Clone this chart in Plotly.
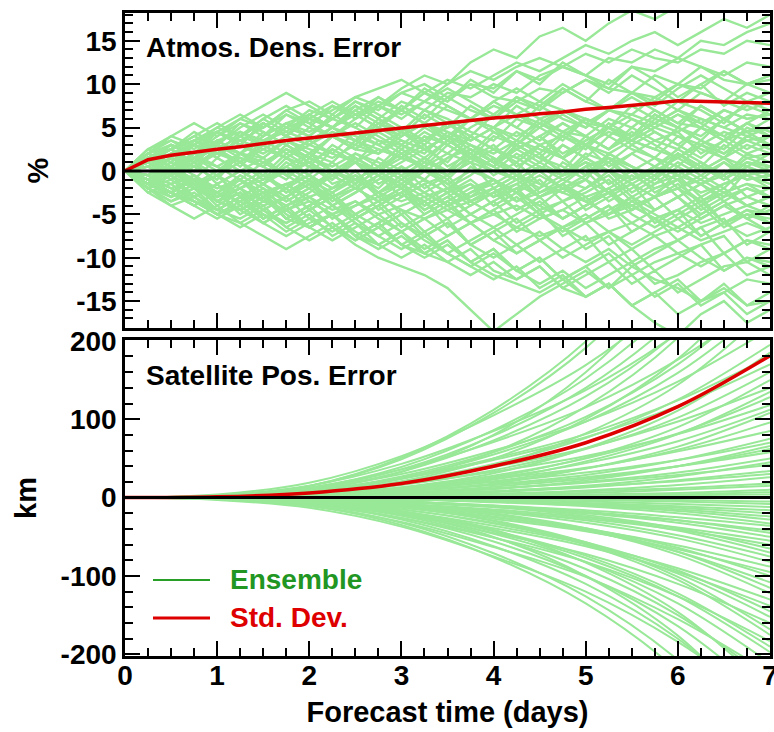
import plotly.graph_objects as go

# ---------------- data ----------------
t_top = [0, 0.25, 0.5, 0.75, 1, 1.25, 1.5, 1.75, 2, 2.25, 2.5, 2.75, 3, 3.25, 3.5,
         3.75, 4, 4.25, 4.5, 4.75, 5, 5.25, 5.5, 5.75, 6, 6.25, 6.5, 6.75, 7]

dens_members = [
    [0,1.5,3,2,4.5,3.5,5,6.5,5.5,7,8.5,7.5,9.5,11,10,12.5,14,13,15.5,16.5,15,17,18.5,17.5,19,20,18.5,19.5,21],
    [0,2,1,3.5,2.5,4,5.5,4,6,7.5,6.5,8,7,9,10.5,9.5,11,12.5,11.5,13,14.5,13.5,15,16,14.5,16,17.5,16.5,18],
    [0,-0.5,1.5,0.5,2.5,4,3,5,4,6,7.5,6,8,7,9,8.5,10,9,11,12,11,13,12.5,14,13,15,14.5,16,17],
    [0,1,-0.5,1.5,3,2,4,5.5,4.5,6,5,7.5,9,8,10,11.5,10.5,12,13,12,13.5,12.5,14,13,12.5,14,13.5,15,14.5],
    [0,1.5,2.5,4,3,5,6.5,5,7,6,8,7,9,10,8.5,10,9.5,11.5,10.5,12,11,10,12,11.5,13,12,11,12.5,12],
    [0,2.5,3.5,2.5,4.5,6,5,7,8,6.5,8.5,9.5,10.5,9,8,10,8.5,8,9.5,9,10.5,9.5,9,11,10,12,10.5,10,11],
    [0,-1,0.5,1.5,0,2,1.5,3.5,2,4,3,5.5,4,6.5,5,7.5,6,8.5,7.5,9.5,8,10.5,9,8,10,9.5,11.5,10,10.5],
    [0,1.5,3,2,4.5,3,5.5,4,3,5,6.5,5,7.5,6,8.5,7,6,8,7,9.5,8,7,9,8.5,10,9,8,10,9],
    [0,0.5,-1,1,-0.5,2,1,-0.5,2,1,3.5,2,4.5,3,5.5,4,6.5,5,7.5,6,5,7,6.5,8.5,7,9,8,7,8],
    [0,1,2.5,1,3,2,0.5,3,1.5,4,2.5,2,4,5.5,3.5,6,5,3.5,6,7,5.5,5,7.5,6,8,7,5.5,8,7],
    [0,-1.5,-2.5,-1,-3,-2,-0.5,-2,0.5,-1,1.5,0,2.5,1,3.5,2,4.5,3,5.5,4,6,5,3.5,6,5,7.5,6,4.5,6],
    [0,1,-0.5,2,3.5,2,4,5.5,4,6.5,5,3.5,3,5,3.5,6,5,7.5,6,4.5,4,6,5,7,5.5,5,7,6,6.5],
    [0,1.5,2.5,3.5,4.5,3,5.5,4,6.5,5,7,5.5,4.5,7,6,4.5,3.5,6,5,3.5,6,5,4,6.5,5,4,6,4.5,5],
    [0,-1.5,0,-1,1.5,0,-1.5,1,-0.5,2.5,1,3.5,2,0.5,3,1.5,4,3,1.5,4,2.5,5,3.5,2.5,5,3.5,2.5,5,4],
    [0,1,-0.5,1.5,2.5,0.5,3,1.5,0.5,-1,2,0.5,3,2,4.5,3,1.5,0,3,1.5,4,2.5,5,3.5,2.5,5,4,2.5,4],
    [0,1.5,2.5,1,3.5,2,4.5,3,1.5,4,2.5,5,3.5,2.5,1,4,2.5,1.5,0,3,1.5,4,2.5,1.5,4,2.5,1.5,4,3],
    [0,-1,-2.5,-1,-3.5,-2,-4.5,-3,-1.5,-4,-2.5,-0.5,-2,0.5,-1,1.5,0,2,0.5,-0.5,2,1,3,1.5,0.5,3,1.5,0.5,2],
    [0,1.5,0,-1.5,0,1.5,0.5,2.5,1,-0.5,1,-1.5,0,1.5,-0.5,2,0.5,3,1.5,0,3,1.5,0.5,-1,2,0.5,3,1.5,2],
    [0,-0.5,1.5,0,2.5,1,-0.5,2,3.5,2,4.5,3,1.5,4,3,1.5,0.5,3,1.5,0.5,-1,2,0.5,-0.5,2,0.5,-0.5,2,1],
    [0,-1.5,0.5,-2,-0.5,1,-1,1.5,-0.5,-2,0,-2.5,-1,0.5,-2,-0.5,1.5,-0.5,-2,1,-0.5,2,0.5,-1,2,0.5,-1,1,0.5],
    [0,1.5,2.5,0.5,-1,2,0.5,3,1.5,0,-1.5,1.5,0,-1,-2.5,0.5,-1,-2.5,0.5,-1,-2,0,-2.5,-1,1,-0.5,-2,0.5,-0.5],
    [0,-1.5,0,-1,-2.5,-1,-3.5,-2,-0.5,-3,-1.5,-4.5,-3,-1.5,-4,-2.5,-1.5,0,-2.5,-1,0.5,1.5,-1,0,1.5,0,1.5,-0.5,0],
    [0,1.5,-0.5,1,-1.5,0,-1.5,-3,-1,-3.5,-2,-0.5,-3,-1.5,-0.5,1,-2,-0.5,1,-0.5,1.5,0,-1.5,-3,0,-1.5,-3,0,-1],
    [0,-1.5,-2.5,-4,-2.5,-5,-3.5,-2,-4.5,-3,-5.5,-4,-2.5,-5,-3.5,-2,-1,-3.5,-2,-0.5,0,-2.5,-1,0.5,-2,-0.5,1,-1,-0.5],
    [0,0.5,2,0.5,2.5,1,3.5,2,0.5,3,1.5,0,-1.5,0.5,-1.5,0,-1,-2.5,-1,-3.5,-2,-0.5,-3,-1.5,-0.5,-3,-1.5,-0.5,-2],
    [0,-1.5,0.5,-1,-2.5,-0.5,-2,-3.5,-2,-0.5,-2,-3.5,-2,-4.5,-3,-1.5,-4,-2.5,-5,-3.5,-2.5,-1,-3.5,-2,-1,-4,-2.5,-1.5,-3],
    [0,1.5,0,-1.5,-3,-1,-3.5,-2,-4.5,-3,-5.5,-4,-6.5,-5,-3.5,-6,-4.5,-7,-5.5,-4.5,-3,-5.5,-4.5,-3,-2,-4.5,-3,-2,-3],
    [0,-1.5,-2.5,-0.5,-3,-1.5,0,-2.5,-1,-4,-2.5,-1,0.5,-2,-0.5,-3.5,-2,-0.5,-3,-1.5,-4.5,-3,-1.5,-4.5,-3,-5.5,-4,-3,-4],
    [0,-1,0.5,-2,-0.5,-3,-1.5,0,1,-1.5,-0.5,-3,-1.5,-4,-2.5,-5,-3.5,-2,-4.5,-3.5,-6,-4.5,-3,-6,-4.5,-3,-6,-4.5,-5],
    [0,1.5,2.5,1,3,1.5,0.5,-1,1.5,0,-1,-2.5,-0.5,-2.5,-1,-3.5,-2,-4.5,-3,-5.5,-4,-2.5,-5,-6.5,-5,-3.5,-6,-5,-5.5],
    [0,-1.5,-2.5,-4,-2.5,-4.5,-6,-4.5,-6.5,-5,-7.5,-6,-4.5,-7,-5.5,-8.5,-7,-5.5,-8,-6.5,-5.5,-4,-7,-5.5,-4.5,-7.5,-6,-4.5,-6],
    [0,-1.5,0.5,-1,-2.5,-3.5,-2,-4.5,-3,-5.5,-4,-2.5,-5,-3.5,-6.5,-5,-3.5,-6,-4.5,-7.5,-6,-8.5,-7,-5.5,-8,-6.5,-5.5,-8.5,-7],
    [0,-2,-0.5,-3,-1.5,-4,-2.5,-5.5,-4,-6.5,-5,-3.5,-6,-7.5,-6,-8.5,-7,-9.5,-8,-6.5,-9,-7.5,-10.5,-9,-8,-6.5,-9.5,-8,-8.5],
    [0,-1,-2.5,-1,-3.5,-4.5,-3,-5.5,-4,-2.5,-5,-6.5,-5,-7.5,-6,-8.5,-10,-8.5,-10.5,-9,-7.5,-10.5,-9,-11.5,-10,-8.5,-7.5,-10.5,-9],
    [0,-1.5,-3,-1.5,-4,-2.5,-5.5,-4,-6.5,-5,-7.5,-9,-7.5,-9.5,-8,-10.5,-9,-11.5,-10,-12.5,-11,-9.5,-12,-10.5,-9.5,-8.5,-11.5,-10,-10.5],
    [0,-1,0.5,-2,-0.5,-3,-4.5,-3,-5.5,-7,-5.5,-7.5,-9,-7.5,-9.5,-11,-9.5,-11.5,-13,-11.5,-13.5,-12,-10.5,-13,-12,-10.5,-9.5,-12,-11],
    [0,-2,-3.5,-2,-4.5,-5.5,-4,-6.5,-5,-7.5,-6,-8.5,-10,-8.5,-10.5,-12,-10.5,-12.5,-11,-13.5,-12,-10.5,-13,-11.5,-14,-12.5,-11,-10.5,-12],
    [0,-1.5,-2.5,-3.5,-5,-3.5,-5.5,-4,-6.5,-5,-7.5,-6,-8.5,-10,-8.5,-10.5,-12,-13,-14,-12.5,-14.5,-13,-15.5,-14,-12.5,-15,-14,-12.5,-13],
    [0,-1,-2.5,-1,-3.5,-2,-4.5,-6,-4.5,-6.5,-8,-6.5,-8.5,-7,-9.5,-11,-12.5,-11,-13.5,-12,-14.5,-13,-15.5,-14,-16.5,-15,-13.5,-15.5,-14],
    [0,-1.5,-2.5,-3.5,-5,-6,-4.5,-6.5,-8,-6.5,-8.5,-10,-11,-12,-13.5,-16,-18.5,-16.5,-14.5,-13,-11.5,-13.5,-11,-12.5,-13.5,-15,-13,-15.5,-15],
    [0,-1,-2.5,-1,-3.5,-4.5,-3,-5.5,-6.5,-5,-7.5,-8.5,-7,-9.5,-10.5,-9,-11.5,-12.5,-11,-13.5,-14.5,-13,-15.5,-17.5,-19,-16.5,-15,-17.5,-16],
    [0,-2,-0.5,-3,-1.5,-4,-2.5,-5,-6.5,-5,-7.5,-6,-8.5,-9.5,-8,-10.5,-9,-11.5,-10,-12.5,-11,-13.5,-12,-14.5,-13,-15.5,-14,-16.5,-15],
    [0,1.5,2.5,3.5,2,4.5,3,5.5,6.5,5,7.5,6,4.5,7,5.5,3.5,5,2.5,4,1.5,3,0.5,2,3.5,4.5,2,3.5,4.5,3],
    [0,-1.5,-2.5,-3.5,-4.5,-3,-5.5,-4,-2.5,-0.5,-2,0.5,-1,1.5,0,2.5,1,-0.5,-1.5,-2.5,-1,-3.5,-2,-0.5,-3,-1.5,-0.5,-3,-2],
    [0,2,0.5,3,1.5,4,5.5,4,6.5,5,3.5,6,4.5,2.5,4,1.5,3,0.5,2,-0.5,1,-1.5,0,-2.5,-1,0.5,-1,1,0],
    [0,-1,-2.5,-1,-3.5,-4.5,-3,-5.5,-4,-2.5,-0.5,-2,0.5,-1,1.5,2.5,1,3.5,2,4.5,3,5.5,4,6.5,5,3.5,6,4.5,5],
    [0,1.5,2.5,4.5,3,5.5,4,6.5,5,7.5,6,8.5,7,9.5,8,10.5,9,11.5,10,12.5,11,9.5,12,10.5,8.5,10,7.5,9,8],
    [0,1,2.5,3.5,4.5,3,5.5,4,6.5,5,3.5,2.5,1.5,3,0.5,2,-0.5,1,-1.5,-2.5,-3.5,-2,-4.5,-3,-5.5,-4,-6.5,-5,-6],
    [0,1,0,1.5,0.5,2,1,2.5,1.5,0.5,2,1,-0.5,1,0,1.5,0.5,-1,0.5,-0.5,1,0,-1.5,0,-1,0.5,-0.5,1,0.5],
    [0,-0.5,-1.5,-0.5,-2,-1,-2.5,-1.5,-3,-2,-1,-2.5,-1.5,-3,-2,-3.5,-2.5,-1.5,-3,-2,-3.5,-2.5,-4,-3,-2,-3.5,-2.5,-4,-3],
    [0,1,2,3,2,3.5,2.5,4,3,4.5,3.5,5,4,5.5,4.5,3.5,5,4,5.5,4.5,6,5,4,5.5,4.5,6,5,4,5],
    [0,-1,-2,-1,-2.5,-3.5,-2.5,-4,-3,-4.5,-3.5,-5,-4,-3,-4.5,-3.5,-5,-4,-5.5,-4.5,-6,-5,-4,-5.5,-4.5,-6,-5,-4,-5],
    [0,0.5,1.5,0.5,2,3,2,3.5,2.5,1.5,3,2,3.5,2.5,4,3,2,3.5,2.5,1.5,3,2,3.5,2.5,1.5,3,2,3.5,2.5],
    [0,-1,0,-1.5,-0.5,-2,-1,0,-1.5,-0.5,1,0,1.5,0.5,-0.5,1,0,-1,0.5,-0.5,1,0,-1,0.5,-0.5,-1.5,0,-1,-0.5],
    [0,1.5,0.5,2,3,2,3.5,4.5,3.5,5,4,3,4.5,3.5,5,6,5,6.5,5.5,7,6,5,6.5,5.5,7,6,5,6.5,6],
    [0,-1.5,-0.5,-2,-3,-2,-3.5,-4.5,-3.5,-5,-4,-3,-4.5,-5.5,-4.5,-6,-5,-6.5,-7.5,-6.5,-8,-7,-6,-7.5,-6.5,-8,-7,-6,-7],
    [0,0.5,-0.5,1,2,1,2.5,1.5,3,2,1,2.5,1.5,0.5,2,1,2.5,1.5,3,4,3,4.5,3.5,5,4,3,4.5,3.5,4],
    [0,-0.5,0.5,-1,-2,-1,-2.5,-1.5,-0.5,-2,-1,-2.5,-3.5,-2.5,-4,-3,-2,-3.5,-2.5,-1.5,-3,-2,-0.5,-2,-1,-2.5,-1.5,-0.5,-1.5],
    [0,2,3,2,3.5,4.5,3.5,5,6,5,6.5,7.5,6.5,8,7,6,7.5,6.5,8,7,5.5,7,6,5,6.5,5.5,7,6,6.5],
    [0,-2,-3,-2,-3.5,-2.5,-4,-3,-1.5,-3,-2,-3.5,-2.5,-1,-2.5,-1.5,-3,-2,-0.5,-2,-1,-2.5,-1.5,-3,-2,-1,-2.5,-1.5,-2],
    [0,2,3.5,2,4,5.5,4.5,3,5,4,2.5,4.5,3,1.5,3.5,2,0.5,2.5,1,3,1.5,0,2,0.5,2.5,1,-0.5,1.5,0.5],
    [0,-2,-3.5,-2.5,-4.5,-3,-5,-6,-4.5,-3,-5,-3.5,-2,-4,-2.5,-1,-3,-1.5,0,-2,-0.5,1,-1,0.5,2,0,1.5,3,2],
    [0,2.5,1.5,3.5,5,4,6,4.5,6.5,8,6.5,5,7,5.5,4,6,4.5,3,5,6.5,5,7,8.5,7,5.5,7.5,6,7.5,6.5],
    [0,-2.5,-1.5,-3.5,-5,-4,-6,-4.5,-6.5,-8,-6.5,-5,-7,-5.5,-4,-6,-4.5,-3,-5,-6.5,-5,-7,-8.5,-7,-5.5,-7.5,-6,-7.5,-6.5],
    [0,1,3,1.5,3.5,2,0.5,2.5,1,-1,1,-0.5,-2,0,-1.5,-3,-1,-2.5,-4,-2,-3.5,-5,-3,-4.5,-3,-1.5,-3.5,-2,-3],
    [0,-1,-3,-1.5,-3.5,-2,-0.5,-2.5,-1,1,-1,0.5,2,0,1.5,3,1,2.5,4,2,3.5,5,3,4.5,3,1.5,3.5,2,3],
    [0,2,4,3,5,6.5,5,7,5.5,4,6,7.5,6,8,9.5,8,6.5,8.5,7,9,10.5,9,11,9.5,8,10,11.5,10,11],
    [0,-2,-4,-3,-5,-6.5,-5,-7,-5.5,-4,-6,-7.5,-6,-8,-9.5,-8,-6.5,-8.5,-7,-9,-10.5,-9,-11,-9.5,-8,-10,-11.5,-10,-11],
    [0,1.5,0,2,0.5,-1,1,-0.5,-2,0,1.5,0,2,3.5,2,4,2.5,1,3,1.5,-0.5,1.5,0,-1.5,0.5,-1,1,-0.5,0.5],
    [0,-1.5,0,-2,-0.5,1,-1,0.5,2,0,-1.5,0,-2,-3.5,-2,-4,-2.5,-1,-3,-1.5,0.5,-1.5,0,1.5,-0.5,1,-1,0.5,-0.5],
    [0,2,1,3,4.5,3,1.5,3.5,2,4,5.5,4,2.5,4.5,3,5,6.5,5,3.5,5.5,4,2.5,4.5,3,1.5,3.5,2,4,3],
    [0,-2,-1,-3,-4.5,-3,-1.5,-3.5,-2,-4,-5.5,-4,-2.5,-4.5,-3,-5,-6.5,-5,-3.5,-5.5,-4,-2.5,-4.5,-3,-1.5,-3.5,-2,-4,-3],
    [0,1,2.5,4,5.5,4,6,7.5,6,5,7,8.5,7,9,7.5,6,8,6.5,5,7,5.5,4,6,4.5,3,5,3.5,5.5,4.5],
    [0,-1,-2.5,-4,-5.5,-4,-6,-7.5,-6,-5,-7,-8.5,-7,-9,-7.5,-6,-8,-6.5,-5,-7,-5.5,-4,-6,-4.5,-3,-5,-3.5,-5.5,-4.5],
    [0,0.5,2,3,1.5,0,1.5,-0.5,1,2.5,1,-0.5,1,2.5,4,2.5,1,2.5,4,5.5,4,2.5,4,5.5,7,5.5,4,5.5,7],
    [0,-0.5,-2,-3,-1.5,0,-1.5,0.5,-1,-2.5,-1,0.5,-1,-2.5,-4,-2.5,-1,-2.5,-4,-5.5,-4,-2.5,-4,-5.5,-7,-5.5,-4,-5.5,-7],
    [0,2.5,4,5.5,4,6,7.5,9,7.5,6,8,6.5,5,3.5,5.5,4,2.5,4.5,3,1.5,3.5,5,3.5,5,6.5,5,3.5,5.5,4],
    [0,-2.5,-4,-5.5,-4,-6,-7.5,-9,-7.5,-6,-8,-6.5,-5,-3.5,-5.5,-4,-2.5,-4.5,-3,-1.5,-3.5,-5,-3.5,-5,-6.5,-5,-3.5,-5.5,-4],
    [0,1,-1,0.5,2.5,1,3,1.5,3.5,5,3.5,5.5,7,5.5,7.5,6,8,9.5,8,10,8.5,7,9,7.5,9.5,11,9.5,8,9],
    [0,-1,1,-0.5,-2.5,-1,-3,-1.5,-3.5,-5,-3.5,-5.5,-7,-5.5,-7.5,-6,-8,-9.5,-8,-10,-8.5,-7,-9,-7.5,-9.5,-11,-9.5,-8,-9],
]

dens_std = [0, 1.3, 1.8, 2.2, 2.5, 2.8, 3.2, 3.5, 3.8, 4.1, 4.4, 4.7, 5.0, 5.2, 5.5,
            5.8, 6.1, 6.3, 6.6, 6.8, 7.1, 7.3, 7.5, 7.8, 8.1, 8.0, 7.9, 7.8, 7.8]

t_pos = [0, 1, 2, 3, 4, 5, 6, 7]

pos_members = [
    [0,2,15,51,112,199,326,510], [0,2,15,49,108,191,314,490], [0,1,9,33,80,160,282,470],
    [0,2,12,39,86,152,250,390], [0,4,19,53,105,169,259,375], [0,1,11,36,79,140,230,360],
    [0,1,7,24,58,116,204,340], [0,1,10,33,73,129,211,330], [0,3,15,43,85,137,210,305],
    [0,1,6,21,50,100,177,295], [0,1,8,27,58,103,170,265], [0,3,13,36,71,115,176,255],
    [0,1,7,25,55,97,159,248], [0,0,5,17,41,82,144,240], [0,2,11,30,60,97,148,215],
    [0,1,6,20,43,76,125,195], [0,0,4,13,31,63,111,185], [0,2,9,24,48,77,117,170],
    [0,1,5,16,35,62,102,160], [0,0,3,11,26,51,90,150], [0,1,7,20,39,63,97,140],
    [0,1,4,13,28,50,82,128], [0,1,6,17,33,53,81,118], [0,0,2,8,18,37,65,108],
    [0,0,3,10,21,37,61,96], [0,1,4,12,24,38,59,85], [0,0,2,8,17,29,48,75],
    [0,0,1,5,11,22,40,66], [0,1,3,8,16,26,40,58], [0,0,2,5,11,20,32,50],
    [0,0,2,6,12,19,29,42], [0,0,1,3,7,13,22,34], [0,0,1,2,4,9,16,26],
    [0,0,1,3,5,8,12,18], [0,0,0,1,2,4,6,10], [0,0,0,1,1,2,3,4],
    [0,0,0,-1,-1,-2,-3,-5], [0,0,-1,-2,-3,-5,-8,-12], [0,0,-1,-2,-4,-8,-13,-20],
    [0,0,-1,-2,-5,-10,-17,-28], [0,0,-2,-5,-10,-16,-25,-36], [0,0,-1,-5,-10,-18,-29,-45],
    [0,-1,-3,-8,-15,-25,-38,-55], [0,0,-1,-5,-11,-22,-39,-65], [0,0,-2,-8,-17,-29,-48,-75],
    [0,-1,-4,-12,-25,-40,-61,-88], [0,0,-3,-10,-22,-39,-64,-100], [0,0,-2,-8,-20,-39,-69,-115],
    [0,-1,-7,-18,-36,-59,-90,-130], [0,-1,-4,-15,-32,-57,-93,-145], [0,-2,-8,-22,-45,-72,-110,-160],
    [0,0,-4,-12,-30,-60,-105,-175], [0,-1,-6,-19,-42,-74,-122,-190],
    [0,-1,-10,-35,-76,-135,-221,-345], [0,-1,-10,-32,-71,-126,-207,-323],
    [0,-1,-6,-21,-50,-100,-176,-294], [0,-1,-8,-28,-62,-110,-180,-281],
    [0,-3,-13,-37,-75,-120,-184,-267], [0,-1,-8,-26,-56,-100,-164,-256],
    [0,0,-5,-17,-41,-83,-146,-244], [0,-1,-7,-23,-51,-91,-150,-234],
    [0,-2,-11,-31,-63,-101,-155,-224], [0,-1,-6,-21,-46,-82,-135,-211],
    [0,2,9,25,50,81,124,180], [0,0,3,9,23,46,81,135], [0,0,3,11,25,44,72,112],
    [0,1,4,10,20,32,48,70], [0,0,2,6,14,24,40,62], [0,0,1,3,8,15,27,45],
    [0,0,2,4,8,14,21,30], [0,0,0,2,3,6,10,15], [0,0,0,0,1,2,4,7],
    [0,0,0,-1,-1,-3,-5,-8], [0,0,-1,-2,-4,-7,-11,-16], [0,0,-1,-2,-5,-9,-15,-24],
    [0,0,-1,-2,-6,-11,-20,-33], [0,0,-2,-6,-12,-19,-29,-42], [0,0,-2,-5,-11,-20,-32,-50],
    [0,-1,-3,-8,-17,-27,-41,-60], [0,0,-1,-5,-12,-24,-42,-70], [0,0,-2,-8,-18,-32,-52,-82],
    [0,-1,-5,-13,-27,-43,-66,-95], [0,0,-3,-11,-24,-42,-69,-108], [0,0,-2,-9,-21,-41,-73,-122],
    [0,-1,-7,-19,-39,-62,-95,-138], [0,-1,-5,-15,-33,-59,-97,-152], [0,0,-3,-12,-29,-57,-101,-168],
    [0,-2,-9,-26,-51,-82,-126,-183], [0,-1,-6,-20,-43,-77,-126,-197],
]

pos_std = [0, 1, 6, 18, 40, 70, 116, 181]

x_ticks = [0, 1, 2, 3, 4, 5, 6, 7]
x_ticktext = ["0", "1", "2", "3", "4", "5", "6", "7"]
y1_ticks = [-15, -10, -5, 0, 5, 10, 15]
y1_ticktext = ["-15", "-10", "-5", "0", "5", "10", "15"]
y2_ticks = [-200, -100, 0, 100, 200]
y2_ticktext = ["-200", "-100", "0", "100", "200"]

# ---------------- styling ----------------
FONT = "Liberation Sans"
ENS = "rgb(152,232,152)"
RED = "rgb(222,0,0)"

fig = go.Figure()

def joined(xs, members):
    X, Y = [], []
    for m in members:
        X += list(xs) + [None]
        Y += list(m) + [None]
    return X, Y

X1, Y1 = joined(t_top, dens_members)
fig.add_trace(go.Scatter(x=X1, y=Y1, mode="lines", line=dict(color=ENS, width=2.4),
                         xaxis="x", yaxis="y", showlegend=False, hoverinfo="skip"))
fig.add_trace(go.Scatter(x=t_top, y=dens_std, mode="lines", line=dict(color=RED, width=3.5),
                         xaxis="x", yaxis="y", showlegend=False))

X2, Y2 = joined(t_pos, pos_members)
fig.add_trace(go.Scatter(x=X2, y=Y2, mode="lines", line=dict(color=ENS, width=2, shape="spline"),
                         xaxis="x2", yaxis="y2", showlegend=False, hoverinfo="skip"))
fig.add_trace(go.Scatter(x=t_pos, y=pos_std, mode="lines", line=dict(color=RED, width=3.5, shape="spline"),
                         xaxis="x2", yaxis="y2", showlegend=False))

tickfont = dict(family=FONT, size=28, color="black", weight="bold")
titlefont = dict(family=FONT, size=29, color="black", weight="bold")
common = dict(showline=True, linecolor="black", linewidth=2.5, mirror="allticks",
              ticks="inside", ticklen=15, tickwidth=2, tickcolor="black",
              showgrid=False, zeroline=False, automargin=False, tickfont=tickfont)

fig.update_layout(
    width=774, height=732,
    margin=dict(l=125, r=4, t=13, b=76),
    paper_bgcolor="white", plot_bgcolor="white",
    showlegend=False,
    xaxis=dict(domain=[0, 1], anchor="y", range=[0, 7], tickvals=x_ticks, ticktext=x_ticktext,
               showticklabels=False, minor=dict(ticks="inside", ticklen=8, tickwidth=2, dtick=0.25,
                                                tickcolor="black"), **common),
    yaxis=dict(domain=[0.5101, 1], anchor="x", range=[-18.1, 18.2], tickvals=y1_ticks,
               ticktext=y1_ticktext, ticklabelstandoff=0,
               minor=dict(ticks="inside", ticklen=8, tickwidth=2, dtick=1, tickcolor="black"),
               title=dict(text="%", font=titlefont, standoff=20), **common),
    xaxis2=dict(domain=[0, 1], anchor="y2", range=[0, 7], tickvals=x_ticks, ticktext=x_ticktext,
                ticklabelstandoff=-7, ticklabeloverflow="allow",
                minor=dict(ticks="inside", ticklen=8, tickwidth=2, dtick=0.25, tickcolor="black"),
                title=dict(text="Forecast time (days)", font=titlefont, standoff=12),
                **common),
    yaxis2=dict(domain=[0, 0.4914], anchor="x2", range=[-202, 201], tickvals=y2_ticks,
                ticktext=y2_ticktext, ticklabelstandoff=0,
                minor=dict(ticks="inside", ticklen=8, tickwidth=2, dtick=20, tickcolor="black"),
                title=dict(text="km", font=titlefont, standoff=16), **common),
)

# zero reference lines (drawn above the ensemble)
for yref, xref in (("y", "x domain"), ("y2", "x2 domain")):
    fig.add_shape(type="line", xref=xref, yref=yref, x0=0, x1=1, y0=0, y1=0,
                  line=dict(color="black", width=3), layer="above")

# panel titles
ann_font = dict(family=FONT, size=28, color="black", weight="bold")
fig.add_annotation(text="Atmos. Dens. Error", xref="paper", yref="paper", x=0.029, y=0.947,
                   xanchor="left", yanchor="middle", showarrow=False, font=ann_font)
fig.add_annotation(text="Satellite Pos. Error", xref="paper", yref="paper", x=0.029, y=0.437,
                   xanchor="left", yanchor="middle", showarrow=False, font=ann_font)

# legend drawn inside the lower panel
legend_items = [("Ensemble", "rgb(40,160,40)", "rgb(34,150,34)", 0.1182, 2),
                ("Std. Dev.", RED, RED, 0.0591, 3)]
for label, lcol, tcol, ly, lw in legend_items:
    fig.add_shape(type="line", xref="paper", yref="paper", x0=0.0434, x1=0.1318, y0=ly, y1=ly,
                  line=dict(color=lcol, width=lw))
    fig.add_annotation(text=label, xref="paper", yref="paper", x=0.1597, y=ly,
                       xanchor="left", yanchor="middle", showarrow=False,
                       font=dict(family=FONT, size=28, color=tcol, weight="bold"))

fig.write_html("out.html")
